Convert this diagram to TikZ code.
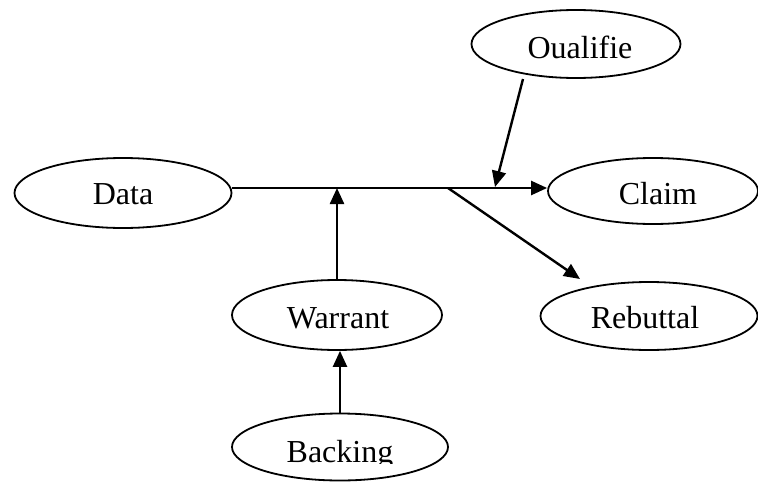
\documentclass[tikz,border=0pt]{standalone}
\usepackage{fontspec}
\setmainfont{Liberation Serif}
\usetikzlibrary{shapes.geometric,arrows.meta}
\begin{document}
\begin{tikzpicture}[x=1pt,y=-1pt,
  ell/.style={draw,ellipse,line width=1.8pt,inner sep=0pt},
  lbl/.style={anchor=base,inner sep=0pt,font=\fontsize{32}{38}\selectfont},
  arr/.style={line width=2.4pt,-{Triangle[length=16pt,width=14pt]}}]
\useasboundingbox (0,0) rectangle (758,482);
\clip (0,0) rectangle (758,482);
% ellipses
\node[ell,minimum width=209pt,minimum height=68pt] (Qual) at (576,44) {};
\node[ell,minimum width=217pt,minimum height=70pt] (Data) at (123,193) {};
\node[ell,minimum width=210pt,minimum height=66pt] (Claim) at (653,191) {};
\node[ell,minimum width=210pt,minimum height=70pt] (Warrant) at (337,315) {};
\node[ell,minimum width=217pt,minimum height=68pt] (Rebuttal) at (649,316) {};
\node[ell,minimum width=216pt,minimum height=67pt] (Backing) at (340,447) {};
% labels
\node[lbl] (tQual) at (580,58) {Oualifie};
\node[lbl] (tData) at (123,204) {Data};
\node[lbl] (tClaim) at (658,204) {Claim};
\node[lbl] (tWarrant) at (338,328) {Warrant};
\node[lbl] (tRebuttal) at (645,328) {Rebuttal};
\begin{scope}
\clip (0,0) rectangle (758,463);
\node[lbl] (tBacking) at (340,462) {Backing};
\end{scope}
% connectors
\coordinate (m) at (0,188);
\coordinate (qs) at (523,79);
\coordinate (qe) at (495,187);
\coordinate (rs) at (448,188);
\coordinate (re) at (580,279);
\draw[arr] (Data.east |- m) -- (Claim.west |- m);
\draw[arr] (Warrant.north) -- (Warrant.north |- m);
\draw[arr] (Backing.north) -- (Backing.north |- Warrant.south);
\draw[arr] (qs) -- (qe);
\draw[arr] (rs) -- (re);
\end{tikzpicture}
\end{document}
